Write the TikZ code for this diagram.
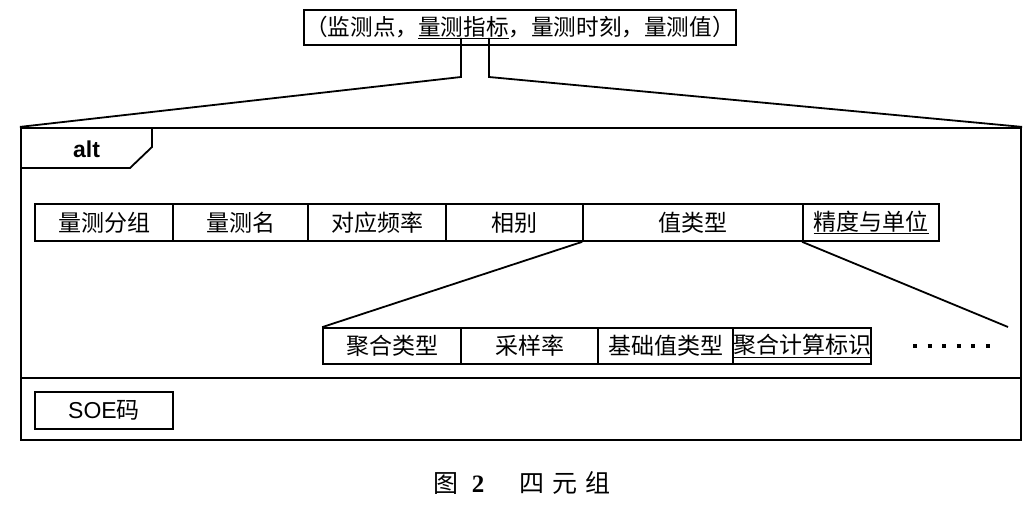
\documentclass[tikz,border=0pt]{standalone}
\usepackage{fontspec}
\setmainfont{Liberation Sans}
\newfontfamily\cjk{Noto Sans CJK SC}
\newfontfamily\capserif{Liberation Serif}
\begin{document}
\begin{tikzpicture}[x=1pt,y=-1pt,
  cell/.style={draw,line width=1.7pt,inner sep=0pt,font=\cjk\fontsize{23}{26}\selectfont},
  frameline/.style={line width=2.2pt},
  conn/.style={line width=1.8pt},
  every node/.style={text=black}]
\useasboundingbox (0,0) rectangle (1032,505);
% top tuple
\node[cell,line width=2pt,minimum width=432pt,minimum height=35pt,font=\cjk\fontsize{22.6}{26}\selectfont] (top) at (520,27.5)
  {（监测点，\underline{量测指标}，量测时刻，量测值）};
\coordinate (ulA) at (461,38);
\coordinate (ulB) at (489,38);
\coordinate (bendA) at (461,77);
\coordinate (bendB) at (489,77);
% frame
\node[draw,frameline,minimum width=1000pt,minimum height=312pt,inner sep=0pt] (frame) at (521,284) {};
\coordinate (divL) at (21,378);
\coordinate (divR) at (1021,378);
\draw[line width=1.6pt] (divL) -- (divR);
\draw[line width=1.8pt] (21,168) -- (130,168) -- (152,147) -- (152,128);
\node[font=\bfseries\fontsize{23}{26}\selectfont] (alt) at (86.5,149) {alt};
\draw[conn] (ulA) -- (bendA) -- (frame.north west);
\draw[conn] (ulB) -- (bendB) -- (frame.north east);
% row 1
\node[cell,minimum width=138pt,minimum height=37pt] (c1) at (104,222.5) {量测分组};
\node[cell,minimum width=135pt,minimum height=37pt] (c2) at (240.5,222.5) {量测名};
\node[cell,minimum width=138pt,minimum height=37pt] (c3) at (377,222.5) {对应频率};
\node[cell,minimum width=137pt,minimum height=37pt] (c4) at (514.5,222.5) {相别};
\node[cell,minimum width=220pt,minimum height=37pt] (c5) at (693,222.5) {值类型};
\node[cell,minimum width=136pt,minimum height=37pt] (c6) at (871,222.5) {\underline{精度与单位}};
% row 2
\node[cell,minimum width=138pt,minimum height=36pt] (d1) at (392,346) {聚合类型};
\node[cell,minimum width=137pt,minimum height=36pt] (d2) at (529.5,346) {采样率};
\node[cell,minimum width=135pt,minimum height=36pt] (d3) at (665.5,346) {基础值类型};
\node[cell,minimum width=138pt,minimum height=36pt] (d4) at (802,346) {\underline{聚合计算标识}};
\coordinate (rend) at (1008,327);
\draw[conn] (c5.south west) -- (d1.north west);
\draw[conn] (c6.south west) -- (rend);
% dots
\coordinate (dotA) at (913,346);
\coordinate (dotB) at (992,346);
\draw[line width=4pt,dash pattern=on 4pt off 10.6pt] (dotA) -- (dotB);
% SOE
\node[cell,font=\fontsize{23}{26}\selectfont,minimum width=138pt,minimum height=37pt] (soe) at (104,410.5) {SOE{\cjk 码}};
% caption
\node[font=\cjk\fontsize{25}{28}\selectfont] (caption) at (522,483)
  {图\hspace{13pt}{\capserif\bfseries 2}\hspace{35pt}四\hspace{8pt}元\hspace{8pt}组};
\end{tikzpicture}
\end{document}
